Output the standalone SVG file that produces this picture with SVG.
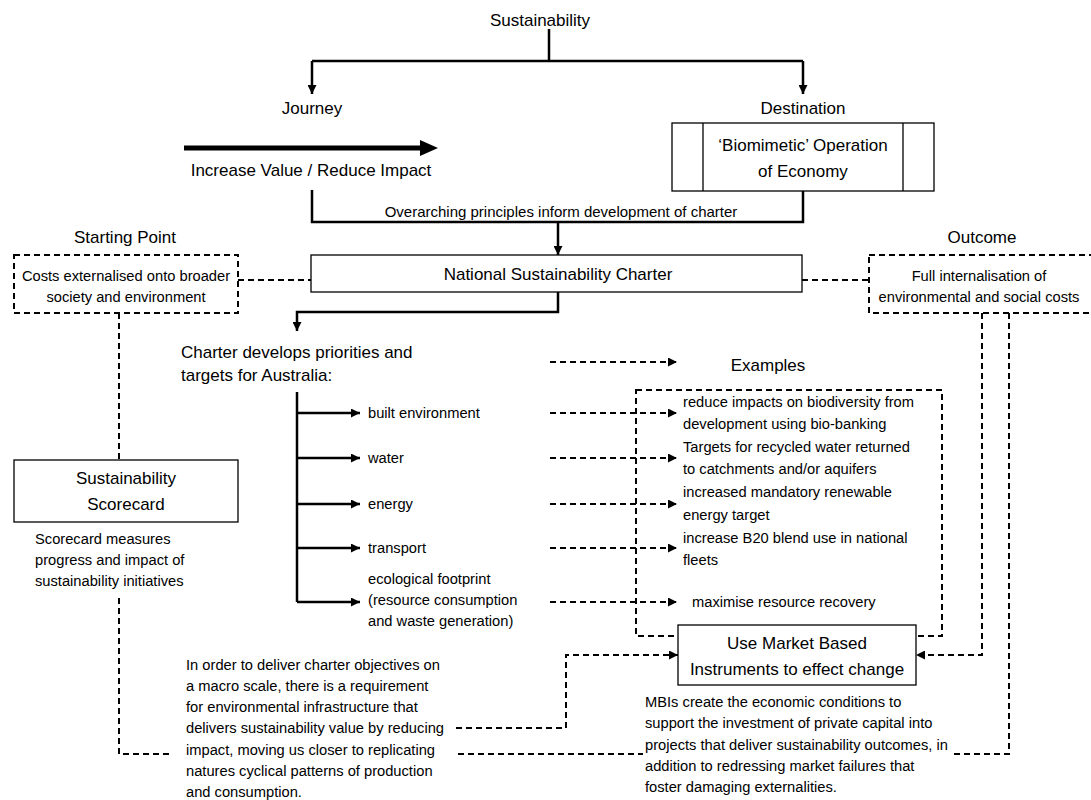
<svg xmlns="http://www.w3.org/2000/svg" width="1091" height="800" viewBox="0 0 1091 800">
<defs>
<marker id="ah" viewBox="0 0 10 10" refX="10" refY="5" markerWidth="9" markerHeight="9" markerUnits="userSpaceOnUse" orient="auto"><path d="M0,0 L10,5 L0,10 z" fill="#000"/></marker>
</defs>
<style>
text{font-family:"Liberation Sans",Arial,sans-serif;fill:#000}
.l{font-size:17px}
.o{font-size:15px}
.m{font-size:14.7px}
.c{text-anchor:middle}
.box{fill:#fff;stroke:#000;stroke-width:1.3}
.dbox{fill:#fff;stroke:#000;stroke-width:2;stroke-dasharray:6,4}
.ln{fill:none;stroke:#000;stroke-width:2.5}
.dl{fill:none;stroke:#000;stroke-width:2;stroke-dasharray:6,4}
</style>
<rect width="1091" height="800" fill="#fff"/>
<g id="connectors">
<path class="ln" d="M549,29 V61"/>
<path class="ln" d="M312,61 H803"/>
<path class="ln" d="M312,61 V94" marker-end="url(#ah)"/>
<path class="ln" d="M803,61 V94" marker-end="url(#ah)"/>
<path d="M184,148 H422" stroke="#000" stroke-width="5"/>
<path d="M420,140 L438,148 L420,156 z" fill="#000"/>
<path class="ln" d="M312,190 V222 H803 V191"/>
<path class="ln" d="M558,222 V255" marker-end="url(#ah)"/>
<path class="dl" d="M238,280 H311"/>
<path class="dl" d="M802,280 H869"/>
<path class="ln" d="M558,292 V312 H297 V331" marker-end="url(#ah)"/>
<path class="ln" d="M297,392 V602"/>
<path class="ln" d="M297,413 H360" marker-end="url(#ah)"/>
<path class="ln" d="M297,458 H360" marker-end="url(#ah)"/>
<path class="ln" d="M297,504 H360" marker-end="url(#ah)"/>
<path class="ln" d="M297,548 H360" marker-end="url(#ah)"/>
<path class="ln" d="M297,602 H360" marker-end="url(#ah)"/>
<path class="dl" d="M550,362 H677" marker-end="url(#ah)"/>
<path class="dl" d="M550,413 H677" marker-end="url(#ah)"/>
<path class="dl" d="M550,458 H677" marker-end="url(#ah)"/>
<path class="dl" d="M550,504 H677" marker-end="url(#ah)"/>
<path class="dl" d="M550,548 H677" marker-end="url(#ah)"/>
<path class="dl" d="M550,602 H677" marker-end="url(#ah)"/>
<path class="dl" d="M119,313 V460"/>
<path class="dl" d="M119,598 V754 H172"/>
<path class="dl" d="M456,728 H566 V655 H678" marker-end="url(#ah)"/>
<path class="dl" d="M458,754 H643"/>
<path class="dl" d="M982,313 V655 H916" marker-end="url(#ah)"/>
<path class="dl" d="M1009,313 V754 H953"/>
</g>
<g id="examples-box"><rect class="dbox" x="636" y="390" width="306" height="246" style="fill:none"/></g>
<g id="sustainability"><text class="l c" x="540" y="26">Sustainability</text></g>
<g id="journey"><text class="l c" x="312" y="114">Journey</text></g>
<g id="destination"><text class="l c" x="803" y="114">Destination</text></g>
<g id="increase"><text class="l c" x="311" y="176">Increase Value / Reduce Impact</text></g>
<g id="biomimetic">
<rect class="box" x="672" y="123" width="262" height="68"/>
<line x1="703" y1="123" x2="703" y2="191" stroke="#000" stroke-width="1.3"/>
<line x1="903" y1="123" x2="903" y2="191" stroke="#000" stroke-width="1.3"/>
<text class="l c" x="803" y="151">‘Biomimetic’ Operation</text>
<text class="l c" x="803" y="177">of Economy</text>
</g>
<g id="overarching"><text class="o c" x="561" y="217">Overarching principles inform development of charter</text></g>
<g id="charter">
<rect class="box" x="311" y="255" width="491" height="37"/>
<text class="l c" x="558" y="280">National Sustainability Charter</text>
</g>
<g id="starting-point">
<text class="l c" x="125" y="243">Starting Point</text>
<rect class="dbox" x="14" y="255" width="224" height="58"/>
<text class="m c" x="126" y="281">Costs externalised onto broader</text>
<text class="m c" x="126" y="302">society and environment</text>
</g>
<g id="outcome">
<text class="l c" x="982" y="243">Outcome</text>
<rect class="dbox" x="869" y="255" width="226" height="58"/>
<text class="m c" x="979" y="281">Full internalisation of</text>
<text class="m c" x="979" y="302">environmental and social costs</text>
</g>
<g id="priorities">
<text class="l" x="181" y="358">Charter develops priorities and</text>
<text class="l" x="181" y="381">targets for Australia:</text>
</g>
<g id="items">
<text class="m" x="368" y="418"> built environment</text>
<text class="m" x="368" y="463">water</text>
<text class="m" x="368" y="509">energy</text>
<text class="m" x="368" y="553">transport</text>
<text class="m" x="368" y="584"> ecological footprint</text>
<text class="m" x="368" y="605">(resource consumption</text>
<text class="m" x="368" y="626">and waste generation)</text>
</g>
<g id="examples-label"><text class="l c" x="768" y="371">Examples</text></g>
<g id="examples">
<text class="m" x="683" y="407">reduce impacts on biodiversity from</text>
<text class="m" x="683" y="429">development using bio-banking</text>
<text class="m" x="683" y="452">Targets for recycled water returned</text>
<text class="m" x="683" y="474">to catchments and/or aquifers</text>
<text class="m" x="683" y="497">increased mandatory renewable</text>
<text class="m" x="683" y="520">energy target</text>
<text class="m" x="683" y="543">increase B20 blend use in national</text>
<text class="m" x="683" y="565">fleets</text>
<text class="m" x="692" y="607">maximise resource recovery</text>
</g>
<g id="mbi">
<rect class="box" x="678" y="625" width="238" height="60"/>
<text class="l c" x="797" y="649">Use Market Based</text>
<text class="l c" x="797" y="675">Instruments to effect change</text>
</g>
<g id="scorecard">
<rect class="box" x="14" y="460" width="224" height="62"/>
<text class="l c" x="126" y="484">Sustainability</text>
<text class="l c" x="126" y="510">Scorecard</text>
</g>
<g id="scorecard-note">
<text class="m" x="35" y="544">Scorecard measures</text>
<text class="m" x="35" y="565">progress and impact of</text>
<text class="m" x="35" y="586">sustainability initiatives</text>
</g>
<g id="infrastructure-note">
<text class="m" x="186" y="670">In order to deliver charter objectives on</text>
<text class="m" x="186" y="691">a macro scale, there is a requirement</text>
<text class="m" x="186" y="712">for environmental infrastructure that</text>
<text class="m" x="186" y="733">delivers sustainability value by reducing</text>
<text class="m" x="186" y="755">impact, moving us closer to replicating</text>
<text class="m" x="186" y="776">natures cyclical patterns of production</text>
<text class="m" x="186" y="797">and consumption.</text>
</g>
<g id="mbi-note">
<text class="m" x="645" y="707">MBIs create the economic conditions to</text>
<text class="m" x="645" y="728">support the investment of private capital into</text>
<text class="m" x="645" y="750">projects that deliver sustainability outcomes, in</text>
<text class="m" x="645" y="771">addition to redressing market failures that</text>
<text class="m" x="645" y="792">foster damaging externalities.</text>
</g>
</svg>
